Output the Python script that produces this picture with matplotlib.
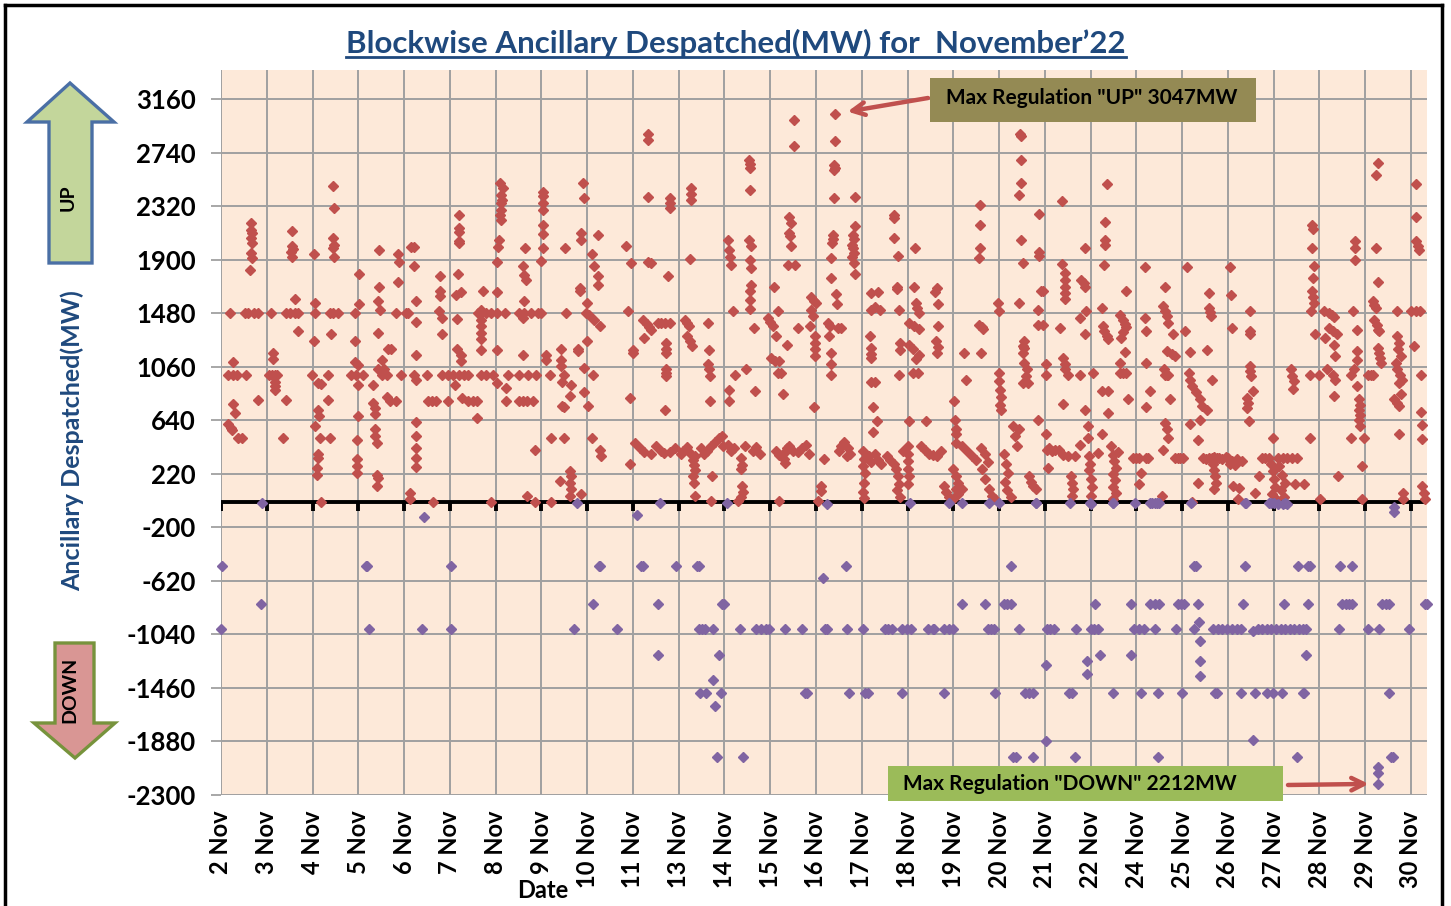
import matplotlib
matplotlib.use("Agg")
import matplotlib.pyplot as plt
from matplotlib.patches import Polygon, Rectangle
from matplotlib.lines import Line2D
from matplotlib.transforms import IdentityTransform

plt.rcParams['font.family'] = ['Lato', 'DejaVu Sans']

# ---------------- data ----------------
day_labels = ['2 Nov', '3 Nov', '4 Nov', '5 Nov', '6 Nov', '7 Nov', '8 Nov', '9 Nov', '10 Nov',
              '11 Nov', '13 Nov', '14 Nov', '15 Nov', '16 Nov', '17 Nov', '18 Nov', '19 Nov',
              '20 Nov', '21 Nov', '22 Nov', '24 Nov', '25 Nov', '26 Nov', '27 Nov', '28 Nov',
              '29 Nov', '30 Nov']
y_ticks = [3160, 2740, 2320, 1900, 1480, 1060, 640, 220, -200, -620, -1040, -1460, -1880, -2300]

# UP despatch (position along date axis, MW)
up_days_2_to_10 = [
    (0.20,1480),(0.52,1480),(0.60,1480),(0.73,1480),(0.80,1480),(0.66,2190),(0.65,2135),(0.68,2110),
    (0.66,2070),(0.67,2030),(0.66,1950),(0.68,1915),(0.64,1820),(0.27,1100),(0.16,1000),(0.27,1000),
    (0.34,1000),(0.54,1000),(0.27,765),(0.30,700),(0.16,610),(0.22,580),(0.25,565),(0.38,500),(0.45,500),
    (0.81,800),
    (1.10,1480),(1.43,1480),(1.50,1480),(1.61,1480),(1.69,1480),(1.55,2130),(1.55,2005),(1.58,1985),
    (1.53,1965),(1.55,1920),(1.61,1590),(1.69,1340),(1.14,1170),(1.14,1120),(1.05,1000),(1.12,1000),
    (1.18,1000),(1.23,1000),(1.18,945),(1.18,910),(1.18,880),(1.43,800),(1.36,500),
    (2.03,1945),(2.05,1480),(2.38,1480),(2.45,1480),(2.56,1480),(2.05,1565),(2.45,2480),(2.47,2305),
    (2.45,2075),(2.47,2020),(2.44,1990),(2.46,1925),(2.41,1320),(2.03,1260),(1.98,1000),(2.34,1000),
    (2.12,935),(2.19,925),(2.34,800),(2.12,725),(2.14,675),(2.05,595),(2.16,500),(2.38,500),(2.12,375),
    (2.12,345),(2.09,265),(2.09,215),(2.18,0),
    (3.02,1790),(3.02,1550),(2.92,1480),(3.45,1980),(3.45,1685),(3.43,1575),(3.48,1510),(3.43,1325),
    (2.92,1265),(2.92,1095),(2.99,1075),(2.85,1000),(2.96,1000),(3.10,1000),(2.99,920),(2.99,675),
    (3.51,1115),(3.43,1040),(3.56,1040),(3.51,1000),(3.63,1000),(3.33,915),(3.62,820),(3.70,796),
    (3.82,796),(3.32,780),(3.36,735),(3.36,690),(3.65,1200),(3.72,1200),(3.36,570),(3.36,520),(3.40,465),
    (2.98,490),(2.98,335),(2.98,285),(2.98,230),(3.40,215),(3.42,185),(3.40,125),(3.83,1480),(4.05,1480),
    (3.87,1945),(3.89,1880),(3.87,1725),
    (4.16,2000),(4.22,2000),(4.22,1855),(4.27,1580),(4.09,1480),(4.25,1410),(4.25,1155),(3.94,1000),
    (4.22,1000),(4.49,1000),(4.27,960),(4.27,625),(4.27,520),(4.27,425),(4.27,345),(4.27,275),(4.52,796),
    (4.60,796),(4.70,796),(4.79,1770),(4.79,1655),(4.79,1615),(4.76,1495),(4.82,1445),(4.82,1320),
    (4.82,1000),(4.96,1000),(4.96,796),(4.12,70),(4.12,20),(4.63,0),
    (5.21,2250),(5.21,2150),(5.21,2120),(5.21,2050),(5.21,2030),(5.18,1790),(5.25,1645),(5.14,1625),
    (5.16,1435),(5.16,1200),(5.25,1150),(5.25,1105),(5.07,1000),(5.20,1000),(5.30,1000),(5.40,1000),
    (5.11,915),(5.27,815),(5.40,796),(5.50,796),(5.60,796),(5.59,660),(5.62,1480),(5.69,1480),(5.80,1480),
    (5.91,1480),(5.72,1655),(5.69,1510),(5.69,1430),(5.69,1380),(5.69,1325),(5.69,1275),(5.67,1190),
    (5.69,1000),(5.80,1000),(5.94,1000),(5.91,0),
    (6.09,2500),(6.16,2460),(6.12,2410),(6.14,2370),(6.12,2345),(6.12,2290),(6.09,2250),(6.12,2215),
    (6.07,2055),(6.05,2000),(6.03,1880),(6.03,1645),(6.03,1480),(6.20,1480),(6.52,1480),(6.63,1480),
    (6.78,1480),(6.92,1480),(6.03,1190),(6.27,1000),(6.52,1000),(6.71,1000),(6.89,1000),(6.03,935),
    (6.23,895),(6.23,796),(6.52,796),(6.60,796),(6.68,796),(6.81,796),(6.65,1990),(6.60,1855),(6.63,1785),
    (6.67,1745),(6.61,1575),(6.60,1445),(6.60,1155),(6.87,405),(6.68,45),(6.85,0),
    (7.03,2435),(7.03,2400),(7.03,2345),(7.03,2290),(7.03,2175),(7.03,2100),(7.03,1990),(7.00,1890),
    (6.99,1480),(7.51,1990),(7.54,1480),(7.97,1480),(7.10,1155),(7.10,1115),(7.18,1000),(7.43,1200),
    (7.43,1115),(7.43,1065),(7.50,1000),(7.45,945),(7.45,750),(7.22,500),(7.50,500),(7.40,165),(7.62,240),
    (7.65,200),(7.63,150),(7.65,100),(7.63,45),(7.22,0),(7.90,2500),(7.93,2385),(7.87,2110),(7.87,2055),
    (7.84,1680),(7.84,1655),(7.80,1200),(7.80,1185),(7.65,920),(7.63,830),(7.50,745),
    (8.23,2095),(8.10,1945),(8.15,1850),(8.23,1770),(8.23,1700),(8.00,1560),(8.03,1470),(8.15,1430),
    (8.28,1380),(8.00,1260),(7.94,1055),(8.12,1000),(7.94,860),(8.02,755),(8.10,500),(8.28,410),(8.30,360),
    (7.86,60),(8.85,2005),(8.95,1875),(8.90,1495),(9.00,1195),(9.00,1170),(8.93,815),(8.93,295),
]

up_days_11_to_20 = [
    (9.33,2890),(9.33,2840),(9.33,2395),(9.33,1885),(9.40,1875),(9.22,1430),(9.30,1400),(9.36,1370),
    (9.40,1350),(9.55,1405),(9.62,1405),(9.70,1405),(9.80,1405),(9.25,1285),(9.73,1245),(9.73,1200),
    (9.73,1170),(9.73,1040),(9.73,1010),(9.73,985),(9.71,720),(9.76,1770),(9.80,2385),(9.80,2345),
    (9.80,2305),(9.04,460),(9.15,420),(9.25,390),(9.40,380),(9.51,440),(9.62,400),(9.69,385),(9.80,390),
    (9.91,420),(10.06,380),
    (10.26,2460),(10.27,2420),(10.26,2370),(10.24,1905),(10.13,1430),(10.18,1405),(10.22,1380),
    (10.18,1300),(10.25,1260),(10.29,1225),(10.65,1405),(10.66,1190),(10.65,1080),(10.67,1040),
    (10.69,990),(10.69,796),(10.10,400),(10.18,430),(10.26,380),(10.35,360),(10.31,330),(10.33,290),
    (10.35,250),(10.31,200),(10.33,150),(10.35,47),(10.72,203),(10.71,8),(10.49,420),(10.55,380),
    (10.62,400),(10.70,440),(10.80,470),(10.88,500),(10.95,520),(10.97,440),
    (11.07,2055),(11.10,1980),(11.12,1925),(11.15,1860),(11.53,2685),(11.55,2650),(11.55,2620),
    (11.55,2445),(11.53,2055),(11.58,2005),(11.56,1900),(11.58,1835),(11.58,1705),(11.55,1655),
    (11.55,1585),(11.55,1515),(11.18,1495),(11.64,1365),(11.22,1000),(11.47,1040),(11.11,880),(11.11,790),
    (11.66,870),(11.20,420),(11.45,440),(11.62,400),(11.70,430),(11.78,380),(11.36,345),(11.38,290),
    (11.36,255),(11.38,125),(11.40,80),(11.36,40),(11.29,8),(11.07,450),(11.14,400),
    (12.53,3000),(12.53,2790),(12.42,2240),(12.46,2190),(12.42,2110),(12.44,2085),(12.46,2010),
    (12.38,1860),(12.55,1860),(12.09,1690),(12.17,1495),(11.95,1445),(12.00,1410),(12.05,1380),
    (12.13,1300),(12.37,1235),(12.02,1130),(12.10,1110),(12.20,1105),(12.17,1015),(12.24,1010),
    (12.28,845),(12.60,1365),(12.86,1380),(12.89,1510),(12.93,1460),(12.89,1610),(12.95,1580),
    (13.00,1560),(12.97,1300),(12.97,1250),(12.97,1200),(12.97,1145),(12.95,745),(12.36,420),
    (12.42,440),(12.50,400),(12.31,385),(12.31,340),(12.33,305),(12.20,8),(12.70,420),(12.78,450),
    (12.85,380),(12.60,390),(12.12,400),(12.20,370),
    (13.42,3047),(13.42,2830),(13.40,2645),(13.41,2620),(13.40,2605),(13.40,2385),(13.85,2395),
    (13.37,2095),(13.38,2060),(13.36,2030),(13.33,1915),(13.33,1755),(13.44,1635),(13.46,1550),
    (13.26,1405),(13.30,1380),(13.48,1365),(13.55,1365),(13.29,1300),(13.32,1170),(13.33,1080),
    (13.32,1000),(13.85,2165),(13.80,2095),(13.82,2060),(13.78,2020),(13.80,1990),(13.84,1950),
    (13.78,1920),(13.82,1875),(13.85,1790),(13.18,335),(13.11,125),(13.11,85),(13.04,8),(13.50,400),
    (13.55,440),(13.62,470),(13.70,420),(13.75,380),(13.67,360),
    (14.71,2255),(14.71,2230),(14.71,2070),(14.79,1930),(14.77,1690),(14.77,1670),(14.20,1640),
    (14.35,1650),(14.20,1510),(14.30,1530),(14.39,1510),(14.18,1300),(14.20,1210),(14.20,1165),
    (14.20,1130),(14.81,1510),(14.83,1250),(14.83,1195),(14.81,1000),(14.20,945),(14.30,945),(14.24,745),
    (14.33,635),(14.24,550),(14.03,400),(14.05,340),(14.03,280),(14.07,230),(14.05,150),(14.03,80),
    (14.05,30),(14.15,360),(14.20,310),(14.28,380),(14.35,330),(14.42,300),(14.55,360),(14.62,330),
    (14.70,300),(14.75,260),(14.80,200),(14.82,140),(14.78,90),(14.83,40),(14.90,400),
    (15.17,1990),(15.15,1690),(15.18,1560),(15.20,1520),(15.26,1485),(15.04,1405),(15.15,1380),
    (15.26,1355),(15.04,1235),(15.11,1200),(15.26,1150),(15.18,1120),(15.11,1015),(15.22,1010),
    (15.64,1680),(15.60,1650),(15.66,1550),(15.66,1380),(15.62,1260),(15.66,1215),(15.64,1170),
    (15.03,635),(15.40,635),(15.29,440),(15.38,410),(15.48,380),(15.55,370),(15.65,360),(15.73,400),
    (15.01,440),(15.01,380),(15.01,320),(15.01,260),(15.03,200),(15.01,140),(15.80,125),(15.85,80),
    (15.90,40),(16.00,20),(16.05,100),(16.10,60),
    (16.58,2330),(16.58,2175),(16.58,1990),(16.57,1915),(16.57,1390),(16.62,1375),(16.64,1360),
    (16.24,1170),(16.60,1170),(16.28,960),(16.01,790),(16.04,645),(16.06,570),(16.06,530),(16.06,465),
    (16.20,440),(16.30,400),(16.40,360),(16.50,330),(16.60,420),(16.70,380),(16.75,310),(16.00,255),
    (16.05,200),(16.10,150),(16.20,100),(16.62,255),(16.70,180),(16.78,100),(16.85,50),(16.92,20),
    (16.98,1560),(17.00,1495),(17.00,1010),(17.00,950),(17.02,880),(17.04,820),(17.02,760),(17.04,725),
    (17.46,2890),(17.48,2870),(17.48,2685),(17.48,2500),(17.44,2410),(17.48,2055),(17.52,1875),
    (17.44,1560),(17.52,1220),(17.52,1170),(17.52,935),(17.30,595),(17.35,520),(17.40,440),(17.10,380),
    (17.15,300),(17.20,230),(17.12,160),(17.18,90),(17.25,40),(17.88,2260),(17.88,1965),(17.88,1930),
    (17.92,1655),(17.97,1655),(17.85,1510),(17.85,1390),(17.95,1390),(17.55,1260),(17.55,1210),
    (17.55,1090),(17.60,1040),(17.58,990),(17.63,935),(17.85,645),(17.44,570),(17.66,200),(17.70,160),
    (17.75,125),(17.80,100),
]

up_days_21_to_30 = [
    (18.37,2365),(18.37,1865),(18.43,1795),(18.43,1740),(18.45,1690),(18.43,1640),(18.43,1590),
    (18.80,1745),(18.85,1720),(18.87,1690),(18.87,1990),(18.91,1495),(18.76,1445),(18.34,1365),
    (18.87,1315),(18.39,1130),(18.45,1080),(18.43,1040),(18.50,1000),(18.03,1080),(18.03,1000),
    (18.76,1000),(18.39,765),(18.87,725),(18.03,530),(18.05,410),(18.10,420),(18.15,400),(18.22,410),
    (18.30,405),(18.40,370),(18.50,360),(18.65,360),(18.07,270),(18.58,200),(18.60,150),(18.61,100),
    (18.60,47),(18.76,450),(18.94,595),(18.94,505),(18.96,360),(18.98,300),(18.96,250),(19.00,180),
    (19.02,120),(19.00,47),
    (19.35,2495),(19.32,2200),(19.31,2055),(19.31,2020),(19.29,1860),(19.78,1655),(19.25,1520),
    (19.64,1470),(19.70,1430),(19.75,1395),(19.78,1370),(19.70,1330),(19.66,1290),(19.27,1380),
    (19.30,1340),(19.35,1300),(19.38,1275),(19.75,1175),(19.64,1090),(19.05,1010),(19.64,1010),
    (19.70,1010),(19.78,1010),(19.24,870),(19.38,870),(19.82,805),(19.38,700),(19.24,530),(19.16,385),
    (19.49,370),(19.52,320),(19.55,270),(19.49,220),(19.53,170),(19.50,120),(19.56,70),(19.49,20),
    (19.93,347),(20.00,347),(20.05,347),(19.45,440),(19.60,390),
    (20.19,1840),(20.62,1690),(20.59,1535),(20.62,1500),(20.66,1460),(20.70,1405),(20.19,1445),
    (20.22,1340),(20.81,1315),(20.66,1185),(20.78,1165),(20.84,1145),(20.22,1090),(20.60,1040),
    (20.62,1000),(20.68,1000),(20.70,1000),(20.29,870),(20.73,805),(20.22,745),(20.62,620),(20.66,570),
    (20.70,505),(20.59,410),(20.84,347),(20.90,347),(20.95,347),(21.02,347),(20.11,230),(20.05,140),
    (20.57,47),(20.20,347),(20.25,347),
    (21.10,1840),(21.58,1640),(21.58,1520),(21.60,1490),(21.62,1460),(21.06,1340),(21.54,1195),
    (21.17,1175),(21.14,1010),(21.18,960),(21.22,910),(21.30,860),(21.38,810),(21.43,750),(21.65,960),
    (21.54,725),(21.39,645),(21.17,610),(21.35,490),(21.45,347),(21.52,340),(21.58,347),(21.65,347),
    (21.70,350),(21.76,345),(21.68,300),(21.70,250),(21.72,200),(21.74,150),(21.70,100),(21.35,150),
    (21.21,0),
    (22.05,1840),(22.07,1625),(22.49,1495),(22.09,1365),(22.49,1340),(22.49,1315),(22.49,1065),
    (22.49,1025),(22.51,990),(22.54,870),(22.41,815),(22.43,780),(22.41,740),(22.47,635),(21.80,345),
    (21.88,340),(21.95,350),(22.00,345),(22.05,300),(22.10,320),(22.15,290),(22.20,340),(22.30,320),
    (22.12,125),(22.25,110),(22.23,21),(22.60,72),(22.69,203),(22.98,503),(22.75,347),(22.82,347),
    (22.90,347),(22.95,300),(22.98,240),(23.00,180),(23.02,120),(22.96,60),(23.04,20),
    (23.10,347),(23.20,347),(23.30,347),(23.40,347),(23.50,347),(23.12,280),(23.18,210),(23.25,150),
    (23.15,90),(23.22,40),(23.46,138),(23.66,138),(23.37,1040),(23.40,990),(23.44,950),(23.42,885),
    (23.80,1000),(23.99,1000),(23.80,503),(23.84,2175),(23.86,2140),(23.84,1990),(23.88,1850),
    (23.86,1755),(23.84,1655),(23.86,1610),(23.88,1560),(23.82,1495),(23.90,1315),(24.02,21),
    (24.10,1495),(24.20,1480),(24.28,1470),(24.32,1455),(24.21,1365),(24.30,1340),(24.39,1315),
    (24.13,1285),(24.32,1235),(24.35,1145),(24.17,1040),(24.30,1000),(24.35,960),(24.32,835),(24.41,203),
    (24.78,2045),(24.78,1995),(24.78,1895),(24.74,1495),(24.81,1350),(24.83,1185),(24.83,1115),
    (24.75,1040),(24.68,1000),(24.83,910),(24.86,805),(24.88,760),(24.86,720),(24.88,680),(24.86,640),
    (24.88,595),(24.70,503),(24.97,503),(24.94,280),(24.92,21),
    (25.27,2660),(25.24,2565),(25.24,1990),(25.27,1730),(25.17,1575),(25.20,1545),(25.23,1520),
    (25.20,1430),(25.25,1390),(25.27,1350),(25.30,1340),(25.27,1210),(25.30,1170),(25.32,1130),
    (25.34,1090),(25.05,1000),(25.13,1000),(25.16,1000),(25.69,1495),(25.70,1300),(25.74,1250),
    (25.72,1200),(25.78,1145),(25.67,1090),(25.70,1040),(25.75,1000),(25.80,960),(25.74,935),(25.78,845),
    (25.63,805),(25.70,780),(25.74,752),(25.74,530),(25.83,72),(25.83,21),
    (26.12,2495),(26.12,2235),(26.11,2045),(26.15,2005),(26.18,1980),(26.00,1495),(26.10,1495),
    (26.20,1495),(26.06,1225),(26.21,1000),(26.21,705),(26.25,600),(26.23,495),(26.25,125),(26.28,70),
    (26.31,20),
]

# DOWN despatch (position along date axis, MW)
down_points = [
    (0.03,-500),(0.00,-1000),(0.90,-5),(0.87,-800),(3.16,-500),(3.19,-500),(3.24,-1000),(4.44,-115),
    (4.39,-1000),(5.03,-500),(5.03,-1000),(7.72,-1000),(7.77,-5),(8.25,-500),(8.28,-500),(8.12,-800),
    (8.66,-1000),(9.10,-105),(9.18,-500),(9.22,-500),(9.55,-800),(9.59,-5),(9.55,-1200),(9.95,-500),
    (10.40,-500),(10.44,-500),(10.44,-1000),(10.50,-1000),(10.57,-1000),(10.74,-1000),(10.87,-1200),
    (10.76,-1400),(10.46,-1500),(10.59,-1500),(10.93,-1500),(10.80,-1600),(10.84,-2000),(10.95,-800),
    (11.00,-800),(11.06,-5),(11.35,-1000),(11.40,-2000),(11.70,-1000),(11.80,-1000),(11.90,-1000),
    (11.97,-1000),(12.33,-1000),(12.69,-1000),(12.77,-1500),(12.80,-1500),(13.16,-594),(13.20,-1000),
    (13.25,-1000),(13.25,-20),(13.65,-500),(13.68,-1000),(14.03,-1000),(13.72,-1500),(14.07,-1500),
    (14.14,-1500),(14.50,-1000),(14.58,-1000),(14.67,-1000),(14.89,-1000),(14.98,-1000),(15.08,-1000),
    (14.89,-1500),(15.05,-5),(15.45,-1000),(15.55,-1000),(15.58,-1000),(15.80,-1000),(15.90,-1000),
    (16.00,-1000),(15.80,-1500),(15.90,-5),(16.19,-800),(16.20,-5),(16.70,-800),(16.75,-1000),
    (16.83,-1000),(16.88,-1000),(16.78,-5),(16.92,-1500),(17.00,-5),(17.10,-800),(17.18,-800),
    (17.25,-800),(17.25,-500),(17.31,-2000),(17.36,-2000),(17.43,-1000),(17.57,-1500),(17.65,-1500),
    (17.75,-1500),(17.75,-2000),(17.81,-5),(18.05,-1000),(18.12,-1000),(18.20,-1000),(18.02,-1278),
    (18.02,-1874),(18.52,-1500),(18.60,-1500),(18.54,-5),(18.68,-1000),(18.65,-2000),(18.93,-1351),
    (18.93,-1247),(19.00,-1000),(19.08,-1000),(19.17,-1000),(19.10,-800),(19.20,-1200),(19.00,-20),
    (19.48,-1500),(19.49,-5),(19.88,-800),(19.88,-1200),(19.95,-1000),(20.05,-1000),(20.17,-1000),
    (19.97,-5),(20.10,-1500),(20.30,-800),(20.40,-800),(20.50,-800),(20.30,-5),(20.40,-5),(20.50,-5),
    (20.40,-1000),(20.47,-1500),(20.47,-2000),(20.86,-1000),(20.90,-800),(20.97,-800),(21.03,-800),
    (21.00,-1500),(21.20,-5),(21.25,-1000),(21.25,-500),(21.30,-500),(21.35,-800),(21.36,-941),
    (21.38,-1095),(21.38,-1247),(21.40,-1364),(21.68,-1000),(21.78,-1000),(21.88,-1000),(21.98,-1000),
    (21.72,-1500),(21.76,-1500),(22.29,-1500),(22.33,-800),(22.37,-500),(22.37,-5),(22.10,-1000),
    (22.20,-1000),(22.28,-1000),(22.55,-1010),(22.65,-1000),(22.75,-1000),(22.85,-1000),(22.95,-1000),
    (23.05,-1000),(23.15,-1000),(23.25,-1000),(23.35,-1000),(23.45,-1000),(23.55,-1000),(23.65,-1000),
    (23.70,-1000),(22.55,-1866),(22.59,-1500),(22.85,-1500),(22.98,-1500),(22.94,-5),(23.10,-20),
    (23.20,-20),(23.30,-20),(23.19,-1500),(23.23,-800),(23.50,-2000),(23.54,-500),(23.76,-500),
    (23.80,-500),(23.63,-1500),(23.67,-1500),(23.76,-800),(23.70,-1200),(24.45,-500),(24.71,-500),
    (24.43,-1000),(24.50,-800),(24.58,-800),(24.65,-800),(24.71,-800),(25.06,-1000),(25.31,-1000),
    (25.36,-800),(25.45,-800),(25.53,-800),(25.53,-1500),(25.56,-2000),(25.60,-2000),(25.29,-2077),
    (25.29,-2130),(25.29,-2212),(25.62,-40),(25.62,-80),(25.96,-1000),(26.31,-800),(26.36,-800),
    (17.80,-5),(18.98,-5),(19.50,-5),(20.35,-5),(20.45,-5),(22.40,-5),(22.90,-5),(23.00,-5),(23.25,-5),
]

max_up = (13.42, 3047)
max_down = (25.29, -2212)

# ---------------- figure ----------------
W, H = 1451, 906
fig = plt.figure(figsize=(W / 100, H / 100), dpi=100)
fig.patch.set_facecolor('white')

def fx(x):
    return x / W

def fy(y):
    return 1 - y / H

ax = fig.add_axes([fx(221), fy(795), fx(1427) - fx(221), fy(70) - fy(795)])
ax.set_facecolor('#FDE9D9')
ax.set_xlim(0, 26.35)
ax.set_ylim(-2300, 3390)

grid_c = '#A0A0A0'
for s in ax.spines.values():
    s.set_visible(False)
ax.set_yticks(y_ticks)
ax.set_yticklabels([str(v) for v in y_ticks], fontsize=18.5, fontweight='bold')
ax.set_xticks(range(len(day_labels)))
ax.set_xticklabels(day_labels, rotation=90, fontsize=17, fontweight='bold', va='top')
ax.tick_params(axis='y', length=7, width=1.3, color=grid_c, pad=11)
ax.tick_params(axis='x', length=0, pad=11)
ax.grid(True, color=grid_c, lw=1.4)
ax.set_axisbelow(True)

# zero axis line with ticks
ax.axhline(0, color='black', lw=2.8, zorder=2)
ax.vlines(range(len(day_labels)), -75, 0, color='black', lw=2.8, zorder=2)

ux = [p[0] for p in up_days_2_to_10 + up_days_11_to_20 + up_days_21_to_30]
uy = [p[1] for p in up_days_2_to_10 + up_days_11_to_20 + up_days_21_to_30]
dx = [p[0] for p in down_points]
dy = [p[1] for p in down_points]
ax.plot(ux, uy, ls='none', marker='D', ms=4.8, color='#C0504D', mec='#C0504D', zorder=3, clip_on=False)
ax.plot(dx, dy, ls='none', marker='D', ms=4.8, color='#8064A2', mec='#8064A2', zorder=3, clip_on=False)

ax.set_xlabel('Date', fontsize=17, fontweight='bold', labelpad=2)
ax.xaxis.set_label_coords((543 - 221) / (1427 - 221), -(890 - 795) / (795 - 70))
ax.xaxis.label.set_va('center')
ax.set_ylabel('Ancillary Despatched(MW)', fontsize=18, fontweight='bold', color='#1F497D')
ax.yaxis.set_label_coords(-(221 - 72) / (1427 - 221), (795 - 441) / (795 - 70))
ax.yaxis.label.set_va('center')

# title
title = fig.text(fx(736), fy(43), "Blockwise Ancillary Despatched(MW) for  November\u201922",
                 fontsize=22.5, fontweight='bold', color='#1F497D', ha='center', va='center')

# outer frame
for xs, ys in [((5, 5), (5, H)), ((5, 1442), (5, 5)), ((1442, 1442), (5, H))]:
    fig.add_artist(Line2D([fx(v) for v in xs], [fy(v) for v in ys], color='black', lw=2.5))

# UP arrow
up_poly = [(70, 83), (114, 122), (92, 122), (92, 263), (49, 263), (49, 122), (27, 122)]
fig.add_artist(Polygon([(fx(a), fy(b)) for a, b in up_poly], closed=True,
                       facecolor='#C3D69B', edgecolor='#4A6FA5', lw=2.4))
fig.text(fx(68), fy(198), 'UP', rotation=90, fontsize=14, fontweight='bold', ha='center', va='center')

# DOWN arrow
dn_poly = [(55, 643), (94, 643), (94, 723), (115, 723), (75, 758), (34, 723), (55, 723)]
fig.add_artist(Polygon([(fx(a), fy(b)) for a, b in dn_poly], closed=True,
                       facecolor='#D99694', edgecolor='#77933C', lw=2.4))
fig.text(fx(70), fy(690), 'DOWN', rotation=90, fontsize=14, fontweight='bold', ha='center', va='center')

# annotation boxes
fig.add_artist(Rectangle((fx(930), fy(122)), fx(1256) - fx(930), fy(78) - fy(122),
                         facecolor='#948A54', edgecolor='none', zorder=5))
fig.text(fx(1092), fy(98), 'Max Regulation "UP" 3047MW', fontsize=15, fontweight='bold',
         ha='center', va='center', zorder=6)
fig.add_artist(Rectangle((fx(888), fy(801)), fx(1283) - fx(888), fy(766) - fy(801),
                         facecolor='#9BBB59', edgecolor='none', zorder=5))
fig.text(fx(1070), fy(784), 'Max Regulation "DOWN" 2212MW', fontsize=15, fontweight='bold',
         ha='center', va='center', zorder=6)

arrow_kw = dict(arrowstyle='->,head_length=0.9,head_width=0.45', color='#C0504D', lw=3.2)
ax.annotate('', xy=max_up, xycoords='data', xytext=(fx(928), fy(98)), textcoords='figure fraction',
            arrowprops=dict(shrinkA=0, shrinkB=9, **arrow_kw), zorder=6)
ax.annotate('', xy=max_down, xycoords='data', xytext=(fx(1288), fy(785)), textcoords='figure fraction',
            arrowprops=dict(shrinkA=0, shrinkB=7, **arrow_kw), zorder=6, annotation_clip=False)

# underline title
fig.canvas.draw()
bb = title.get_window_extent()
fig.add_artist(Line2D([bb.x0, bb.x1], [H - 57, H - 57], transform=IdentityTransform(),
                      color='#1F497D', lw=2.0))

fig.savefig('out.png', dpi=100)
